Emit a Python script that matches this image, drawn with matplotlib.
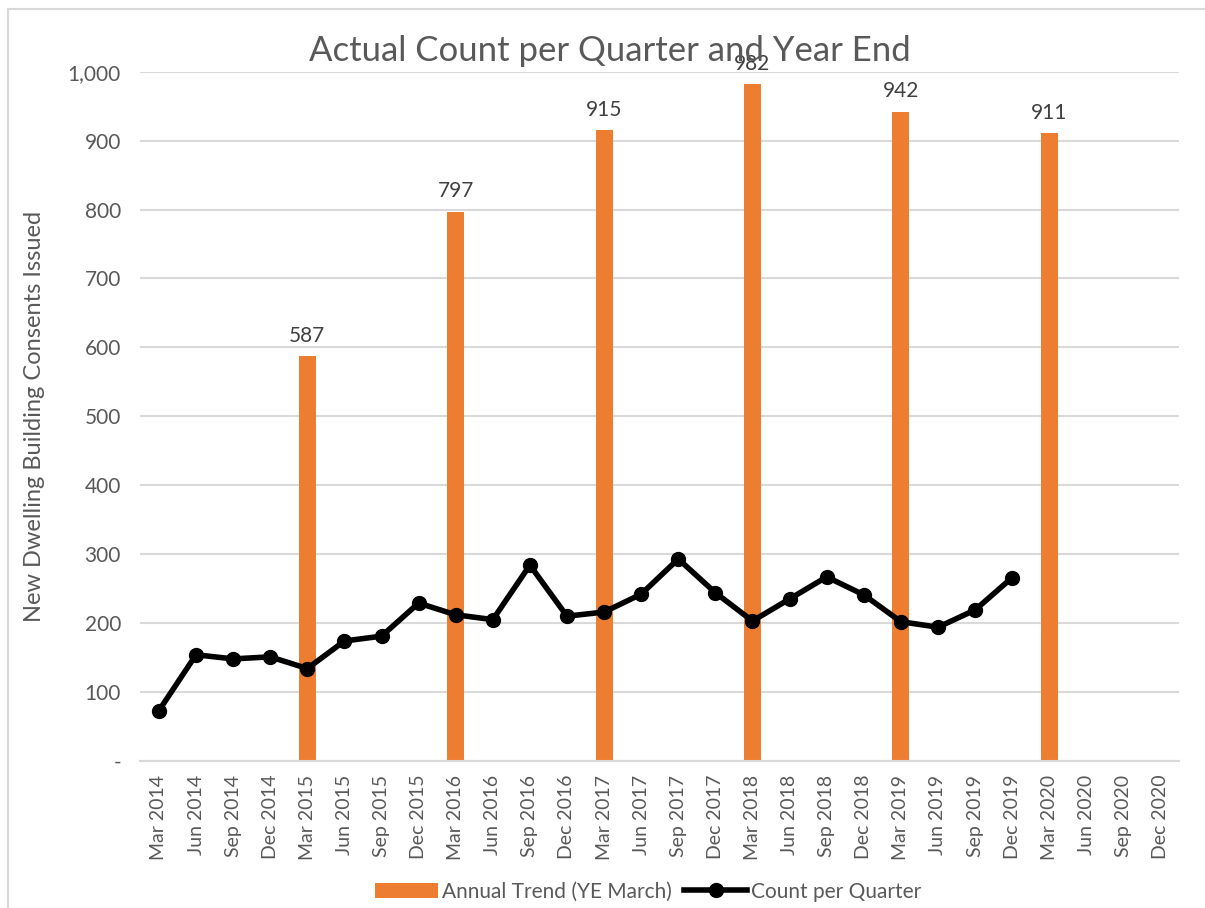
import matplotlib
matplotlib.use('Agg')
import matplotlib.pyplot as plt
import numpy as np

quarters = [
    'Mar 2014', 'Jun 2014', 'Sep 2014', 'Dec 2014',
    'Mar 2015', 'Jun 2015', 'Sep 2015', 'Dec 2015',
    'Mar 2016', 'Jun 2016', 'Sep 2016', 'Dec 2016',
    'Mar 2017', 'Jun 2017', 'Sep 2017', 'Dec 2017',
    'Mar 2018', 'Jun 2018', 'Sep 2018', 'Dec 2018',
    'Mar 2019', 'Jun 2019', 'Sep 2019', 'Dec 2019',
    'Mar 2020', 'Jun 2020', 'Sep 2020', 'Dec 2020',
]
count_per_quarter = [
    73, 154, 148, 151, 134, 174, 181, 229,
    212, 205, 284, 210, 216, 242, 293, 244,
    203, 235, 267, 241, 202, 194, 219, 266,
]
annual_labels = ['Mar 2015', 'Mar 2016', 'Mar 2017', 'Mar 2018', 'Mar 2019', 'Mar 2020']
annual_trend = [587, 797, 915, 982, 942, 911]

plt.rcParams['font.family'] = ['Lato', 'DejaVu Sans']
grey = '#595959'

fig = plt.figure(figsize=(12.05, 9.08), dpi=100)
ax = fig.add_axes([0.1165, 0.162, 0.862, 0.759])

x = np.arange(len(quarters))
bar_x = [quarters.index(q) for q in annual_labels]
bars = ax.bar(bar_x, annual_trend, width=0.46, color='#ed7d31',
              label='Annual Trend (YE March)', zorder=2)
for bx, v in zip(bar_x, annual_trend):
    ax.text(bx, v + 15, f'{v}', ha='center', va='bottom', fontsize=15,
            color='#404040', zorder=4)

line, = ax.plot(x[:len(count_per_quarter)], count_per_quarter, color='black', lw=4,
                marker='o', ms=10, label='Count per Quarter', zorder=3)

ax.set_xlim(-0.5, len(quarters) - 0.5)
ax.set_ylim(0, 1000)
ax.set_yticks(range(0, 1001, 100))
ax.set_yticklabels(['-'] + [f'{v:,}' for v in range(100, 1001, 100)],
                   fontsize=15, color=grey)
ax.set_xticks(x)
ax.set_xticklabels(quarters, rotation=90, fontsize=14, color=grey)
ax.tick_params(length=0, pad=10)
ax.tick_params(axis='y', pad=14)
ax.grid(axis='y', color='#d9d9d9', lw=1.5, zorder=0)
for s in ['top', 'right', 'left']:
    ax.spines[s].set_visible(False)
ax.spines['bottom'].set_color('#d9d9d9')
ax.spines['bottom'].set_linewidth(1.5)

ax.set_ylabel('New Dwelling Building Consents Issued', fontsize=17,
              color=grey, labelpad=16)
fig.text(0.506, 0.944, 'Actual Count per Quarter and Year End', ha='center',
         va='center', fontsize=25, color=grey)

leg = fig.legend([bars, line], ['Annual Trend (YE March)', 'Count per Quarter'],
                 loc='center', bbox_to_anchor=(0.538, 0.018), ncol=2,
                 frameon=False, fontsize=15, handlelength=3.0,
                 columnspacing=0.6, handletextpad=0.2)
for t in leg.get_texts():
    t.set_color(grey)

fig.patches.append(plt.Rectangle((0.007, -0.01), 0.995, 1.0, transform=fig.transFigure,
                                 fill=False, edgecolor='#d9d9d9', lw=1.5))

fig.savefig('out.png', dpi=100)
